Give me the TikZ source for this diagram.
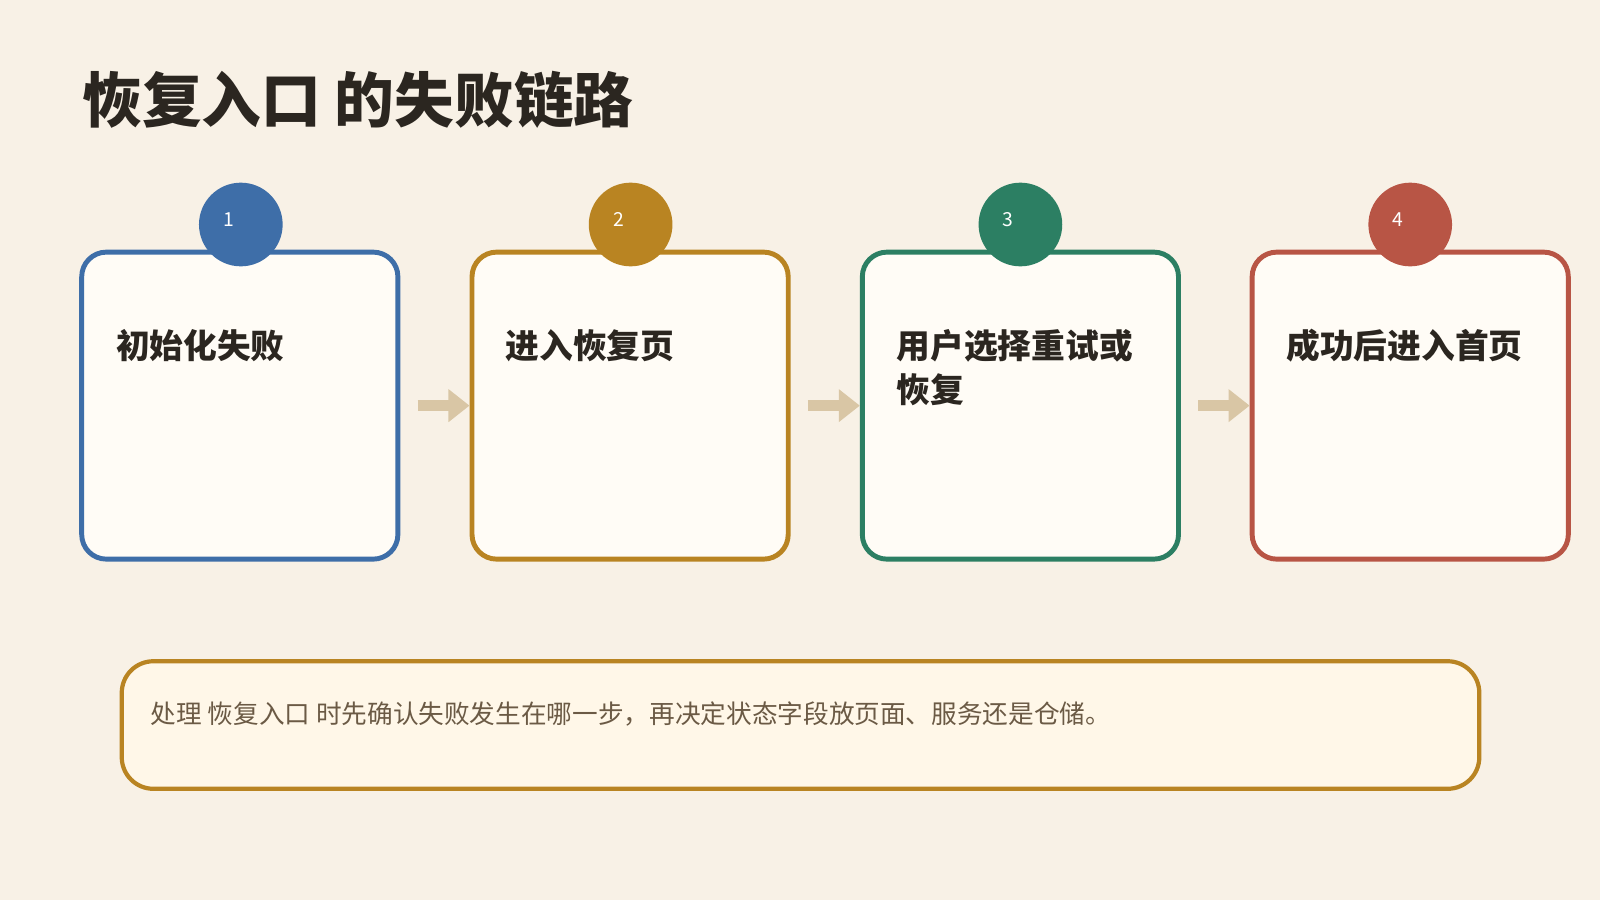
\documentclass[tikz,border=0pt]{standalone}
\usepackage{fontspec}
\setmainfont{Noto Sans CJK SC}
\usetikzlibrary{arrows.meta}
\definecolor{bg}{HTML}{F8F1E6}
\definecolor{cardfill}{HTML}{FFFCF6}
\definecolor{notefill}{HTML}{FFF7E8}
\definecolor{cblue}{HTML}{3E6EA8}
\definecolor{cgold}{HTML}{B98422}
\definecolor{cgreen}{HTML}{2C7F63}
\definecolor{cred}{HTML}{B85545}
\definecolor{ink}{HTML}{2B2620}
\definecolor{notetext}{HTML}{6B5A45}
\definecolor{linkc}{HTML}{D9C6A5}
\tikzset{
  card/.style={draw=#1, line width=1.4pt, fill=cardfill, rounded corners=7pt, minimum width=3.163cm, minimum height=3.071cm, inner sep=0pt},
  badge/.style={circle, fill=#1, minimum size=0.837cm, inner sep=0pt},
  num/.style={text=white, font=\fontsize{5.5}{6}\selectfont},
  steptext/.style={anchor=north west, align=left, text width=2.55cm, text=ink, font=\bfseries\fontsize{9.6}{12.5}\selectfont, inner sep=0pt},
  link/.style={draw=linkc, line width=3pt, -{Triangle[length=6pt,width=9pt]}}
}
\begin{document}
\begin{tikzpicture}[x=0.010204cm, y=-0.010204cm]
\fill[bg] (0,0) rectangle (1568,882);
\useasboundingbox (0,0) rectangle (1568,882);
\node[anchor=west, text=ink, font=\bfseries\fontsize{17}{20}\selectfont, inner sep=0pt] (title) at (80,98) {恢复入口 的失败链路};
% cards
\node[card=cblue] (c1) at (235,397.5) {};
\node[card=cgold] (c2) at (617.5,397.5) {};
\node[card=cgreen] (c3) at (1000,397.5) {};
\node[card=cred] (c4) at (1382,397.5) {};
\node[badge=cblue] (b1) at (236,220) {};
\node[badge=cgold] (b2) at (618,220) {};
\node[badge=cgreen] (b3) at (1000,220) {};
\node[badge=cred] (b4) at (1382,220) {};
\node[num] (n1) at (224,215) {1};
\node[num] (n2) at (606,215) {2};
\node[num] (n3) at (988,215) {3};
\node[num] (n4) at (1370,215) {4};
\node[steptext] (s1) at (113,322) {初始化失败};
\node[steptext] (s2) at (495,322) {进入恢复页};
\node[steptext] (s3) at (878,322) {用户选择重试或\\恢复};
\node[steptext] (s4) at (1260,322) {成功后进入首页};
% links
\draw[link] ([xshift=0.173cm]c1.east) -- (c2.west);
\draw[link] ([xshift=0.173cm]c2.east) -- (c3.west);
\draw[link] ([xshift=0.173cm]c3.east) -- (c4.west);
% note
\node[draw=cgold, line width=1.2pt, fill=notefill, rounded corners=9pt, minimum width=13.58cm, minimum height=1.276cm, inner sep=0pt] (note) at (784.5,710.5) {};
\node[anchor=west, text=notetext, font=\fontsize{7.3}{9}\selectfont, inner sep=0pt] (notetext) at (147,700) {处理 恢复入口 时先确认失败发生在哪一步，再决定状态字段放页面、服务还是仓储。};
\end{tikzpicture}
\end{document}
